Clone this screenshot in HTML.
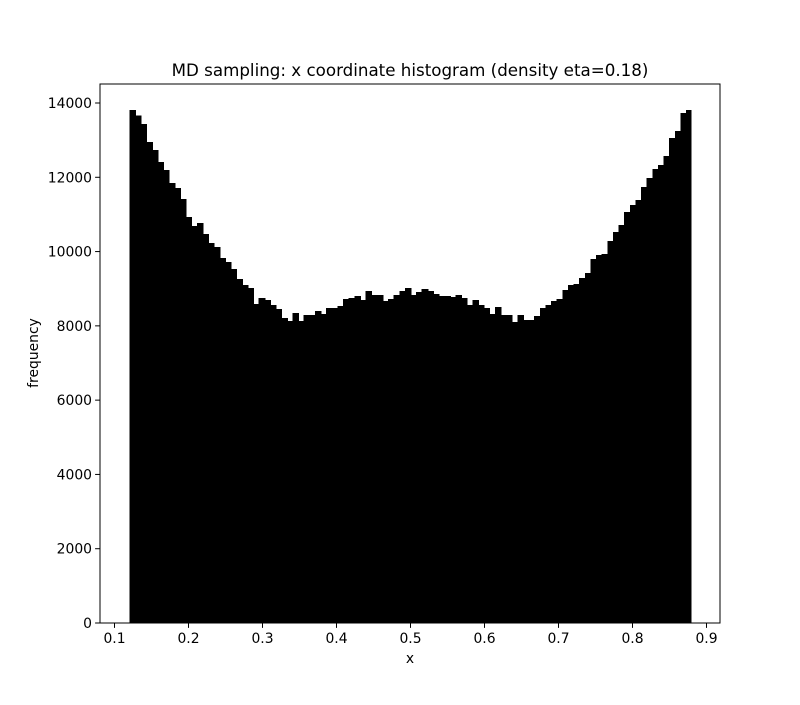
<!DOCTYPE html>
<html><head><meta charset="utf-8"><style>
body{margin:0;background:#fff;}
svg text{font-family:"DejaVu Sans","Liberation Sans",sans-serif;fill:#000;}
</style></head><body>
<svg id="chart" width="800" height="700" xmlns="http://www.w3.org/2000/svg">
<rect width="800" height="700" fill="#fff"/>
<g id="bars" shape-rendering="crispEdges"></g>
<g id="axes"></g>
<text x="410" y="76" font-size="16.7" text-anchor="middle">MD sampling: x coordinate histogram (density eta=0.18)</text>
<text x="410" y="663" font-size="13.9" text-anchor="middle">x</text>
<text transform="translate(38,353) rotate(-90)" font-size="13.9" text-anchor="middle">frequency</text>
</svg>
<script>
const binStart = 0.12;
const binEnd = 0.88;
const counts = [13812,13660,13436,12951,12736,12413,12198,11848,11713,11417,
10932,10690,10770,10474,10232,10124,9828,9720,9531,9262,
9100,9019,8589,8750,8697,8562,8454,8212,8131,8347,
8131,8293,8293,8400,8320,8481,8481,8535,8724,8750,
8804,8697,8939,8831,8831,8670,8724,8831,8939,9019,
8831,8912,8993,8939,8858,8804,8804,8777,8831,8750,
8562,8697,8562,8481,8320,8508,8293,8293,8104,8293,
8158,8158,8266,8481,8562,8670,8724,8966,9100,9127,
9289,9423,9800,9908,9935,10285,10528,10716,11066,11255,
11390,11739,11982,12224,12332,12574,13059,13247,13732,13812];
const xTicks = [0.1,0.2,0.3,0.4,0.5,0.6,0.7,0.8,0.9];
const yTicks = [0,2000,4000,6000,8000,10000,12000,14000];

const L=100,R=720,T=84,B=623;
const xmin=0.1-14.5/740, xmax=xmin+620/740;
const ymax=(B-T)/((B-103)/14000);
const sx=v=>L+(v-xmin)/(xmax-xmin)*(R-L);
const sy=v=>B-v/ymax*(B-T);
const NS="http://www.w3.org/2000/svg";
const bars=document.getElementById('bars');
const w=(binEnd-binStart)/counts.length;
counts.forEach((c,i)=>{
  const r=document.createElementNS(NS,'rect');
  const x0=sx(binStart+i*w), x1=sx(binStart+(i+1)*w);
  r.setAttribute('x',x0);r.setAttribute('width',x1-x0+(i<counts.length-1?1:0));
  r.setAttribute('y',sy(c));r.setAttribute('height',B-sy(c));
  r.setAttribute('fill','#000');
  
  
  bars.appendChild(r);
});
const ax=document.getElementById('axes');
const fr=document.createElementNS(NS,'rect');
fr.setAttribute('x',L);fr.setAttribute('y',T);fr.setAttribute('width',R-L);fr.setAttribute('height',B-T);
fr.setAttribute('fill','none');fr.setAttribute('stroke','#000');fr.setAttribute('stroke-width','1');


ax.appendChild(fr);
xTicks.forEach(t=>{
  const x=sx(t);
  const l=document.createElementNS(NS,'line');
  l.setAttribute('x1',x);l.setAttribute('x2',x);l.setAttribute('y1',B);l.setAttribute('y2',B+4.9);l.setAttribute('stroke','#000');
  
  
  ax.appendChild(l);
  const tx=document.createElementNS(NS,'text');
  tx.setAttribute('x',x);tx.setAttribute('y',B+20);tx.setAttribute('font-size','13.9');tx.setAttribute('text-anchor','middle');
  tx.textContent=t.toFixed(1);
  
  
  ax.appendChild(tx);
});
yTicks.forEach(t=>{
  const y=sy(t);
  const l=document.createElementNS(NS,'line');
  l.setAttribute('x1',L-4.9);l.setAttribute('x2',L);l.setAttribute('y1',y);l.setAttribute('y2',y);l.setAttribute('stroke','#000');
  
  
  ax.appendChild(l);
  const tx=document.createElementNS(NS,'text');
  tx.setAttribute('x',L-8);tx.setAttribute('y',y+5);tx.setAttribute('font-size','13.9');tx.setAttribute('text-anchor','end');
  tx.textContent=String(t);
  
  
  ax.appendChild(tx);
});
</script>
</body></html>
